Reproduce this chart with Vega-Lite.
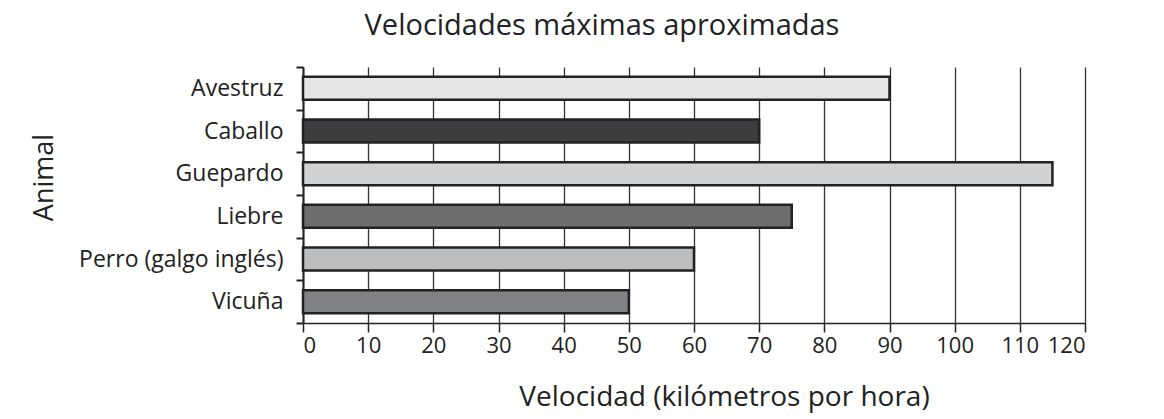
{
  "$schema": "https://vega.github.io/schema/vega-lite/v6.json",
  "width": 782,
  "height": 256,
  "autosize": {"type": "none"},
  "padding": {"left": 303, "top": 67, "right": 79, "bottom": 96},
  "background": "white",
  "title": {
    "text": "Velocidades máximas aproximadas",
    "anchor": "middle",
    "dx": -92,
    "offset": -8,
    "baseline": "alphabetic",
    "font": "Open Sans",
    "fontSize": 29,
    "fontWeight": "normal",
    "color": "#222222"
  },
  "data": {
    "values": [
      {"Animal": "Avestruz", "Velocidad": 90},
      {"Animal": "Caballo", "Velocidad": 70},
      {"Animal": "Guepardo", "Velocidad": 115},
      {"Animal": "Liebre", "Velocidad": 75},
      {"Animal": "Perro (galgo inglés)", "Velocidad": 60},
      {"Animal": "Vicuña", "Velocidad": 50}
    ]
  },
  "mark": {"type": "bar", "height": {"band": 0.54}, "stroke": "#222222", "strokeWidth": 2.5},
  "encoding": {
    "y": {
      "field": "Animal",
      "type": "nominal",
      "sort": null,
      "scale": {"paddingInner": 0, "paddingOuter": 0},
      "axis": {
        "title": "Animal",
        "tickBand": "extent",
        "tickSize": 7,
        "tickWidth": 2,
        "tickColor": "#222222",
        "domainColor": "#222222",
        "domainWidth": 2,
        "labelPadding": 13,
        "labelLimit": 300,
        "labelFont": "Open Sans",
        "labelFontSize": 23,
        "labelColor": "#222222",
        "titleFont": "Open Sans",
        "titleFontSize": 27,
        "titleFontWeight": "normal",
        "titleColor": "#222222",
        "titleX": -251,
        "titleY": 110,
        "titleBaseline": "alphabetic",
        "titleAlign": "center",
        "grid": false
      }
    },
    "x": {
      "field": "Velocidad",
      "type": "quantitative",
      "scale": {"domain": [0, 120], "nice": false},
      "axis": {
        "title": "Velocidad (kilómetros por hora)",
        "values": [0, 10, 20, 30, 40, 50, 60, 70, 80, 90, 100, 110, 120],
        "grid": true,
        "gridColor": "#333333",
        "gridWidth": 1.3,
        "tickSize": 9,
        "tickWidth": 1.5,
        "tickColor": "#222222",
        "domainColor": "#222222",
        "domainWidth": 1.5,
        "labelPadding": 3,
        "labelFont": "Open Sans",
        "labelFontSize": 22,
        "labelColor": "#222222",
        "titleFont": "Open Sans",
        "titleFontSize": 28,
        "titleFontWeight": "normal",
        "titleColor": "#222222",
        "titleX": 421,
        "titleY": 82,
        "titleBaseline": "alphabetic",
        "titleAlign": "center"
      }
    },
    "color": {
      "field": "Animal",
      "type": "nominal",
      "sort": null,
      "scale": {
        "domain": ["Avestruz", "Caballo", "Guepardo", "Liebre", "Perro (galgo inglés)", "Vicuña"],
        "range": ["#e5e5e5", "#3d3d3f", "#d1d2d4", "#6d6d6e", "#bcbdbf", "#808184"]
      },
      "legend": null
    }
  },
  "config": {"view": {"stroke": null}}
}
